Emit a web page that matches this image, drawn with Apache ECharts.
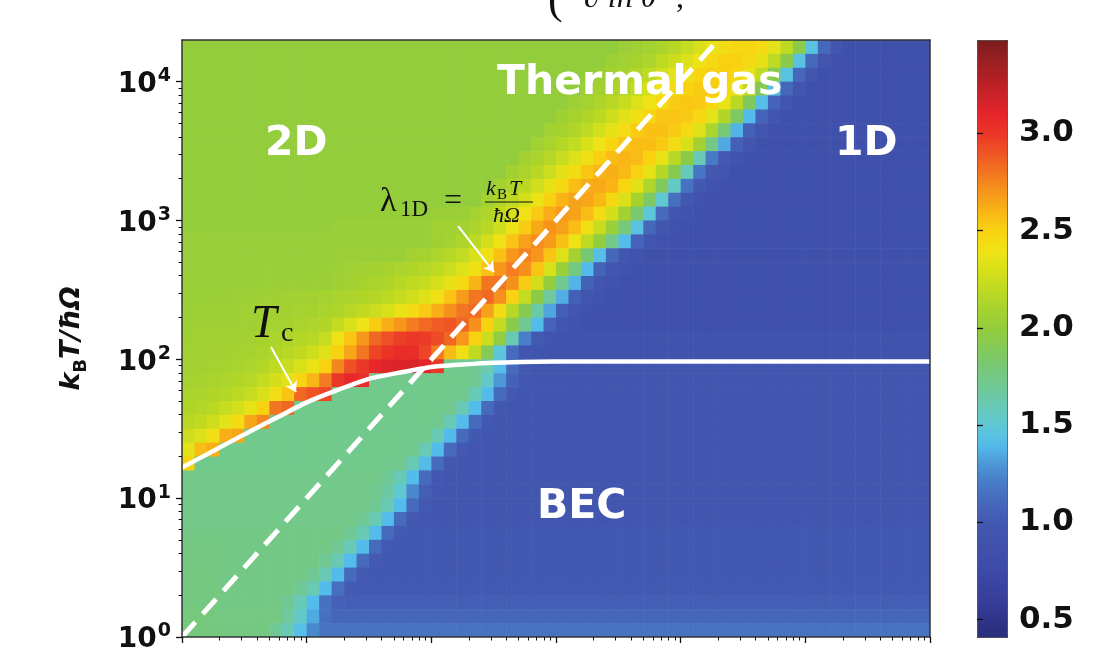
<!DOCTYPE html>
<html lang="en" style="height: 100%">

<head>
  <meta charset="utf-8">
</head>

<body style="height: 100%; margin: 0; background: #fff">
  <div id="container" style="width: 1094px; height: 649px"></div>

  <script type="text/javascript" src="https://cdn.jsdelivr.net/npm/echarts@6.0.0/dist/echarts.min.js"></script>

  <script type="text/javascript">
    var dom = document.getElementById('container');
    var myChart = echarts.init(dom, null, { renderer: 'canvas' });

    // map is sampled every 0.1 decade: 60 columns (x 1..1e6), 43 rows (y 1..10^4.3)
    var cellDecade = 0.1;
    var nCols = 60;
    var nRows = 43;

    // values, top row first.
    // a number is one cell, [v, n] is n cells of v, [v] fills to the right edge
    var thermalRows = [
      [[2.0, 35], 2.04, 2.06, 2.09, 2.12, 2.17, 2.23, 2.3, 2.38, 2.43, 2.47, 2.48, 2.45, 2.35, 2.2, 1.95, 1.45, 1.1, 0.95, [0.88]],
      [[2.0, 34], 2.05, 2.07, 2.1, 2.13, 2.2, 2.25, 2.32, 2.4, 2.46, 2.5, 2.5, 2.46, 2.36, 2.2, 1.95, 1.45, 1.1, 0.95, [0.88]],
      [[2.0, 33], 2.05, 2.08, 2.11, 2.15, 2.2, 2.27, 2.35, 2.42, 2.48, 2.51, 2.51, 2.47, 2.37, 2.2, 1.93, 1.45, 1.1, 0.95, [0.88]],
      [[2.0, 32], 2.05, 2.08, 2.12, 2.16, 2.22, 2.3, 2.38, 2.45, 2.5, 2.52, 2.52, 2.48, 2.38, 2.2, 1.9, 1.45, 1.1, 0.95, [0.88]],
      [[2.0, 31], 2.06, 2.09, 2.13, 2.18, 2.24, 2.32, 2.4, 2.47, 2.52, 2.54, 2.53, 2.48, 2.37, 2.18, 1.88, 1.42, 1.08, 0.95, [0.88]],
      [[2.0, 30], 2.06, 2.1, 2.14, 2.19, 2.26, 2.34, 2.42, 2.49, 2.54, 2.55, 2.53, 2.47, 2.35, 2.15, 1.85, 1.4, 1.08, 0.95, [0.88]],
      [[2.0, 29], 2.07, 2.1, 2.15, 2.2, 2.28, 2.36, 2.45, 2.52, 2.56, 2.56, 2.53, 2.46, 2.33, 2.12, 1.8, 1.38, 1.06, 0.95, [0.88]],
      [[2.0, 28], 2.07, 2.11, 2.16, 2.22, 2.3, 2.39, 2.48, 2.55, 2.58, 2.57, 2.53, 2.44, 2.3, 2.08, 1.75, 1.35, 1.05, 0.94, [0.88]],
      [[2.0, 27], 2.08, 2.12, 2.17, 2.24, 2.32, 2.42, 2.51, 2.58, 2.6, 2.58, 2.5, 2.37, 2.18, 1.95, 1.6, 1.2, 1.0, 0.93, [0.88]],
      [[2.0, 26], 2.08, 2.12, 2.18, 2.25, 2.34, 2.44, 2.54, 2.6, 2.62, 2.59, 2.5, 2.36, 2.16, 1.92, 1.58, 1.18, 0.99, 0.93, [0.88]],
      [[2.0, 25], 2.08, 2.13, 2.19, 2.27, 2.36, 2.47, 2.57, 2.63, 2.64, 2.6, 2.49, 2.34, 2.13, 1.88, 1.55, 1.16, 0.98, 0.92, [0.88]],
      [[2.0, 24], 2.09, 2.14, 2.2, 2.28, 2.38, 2.5, 2.6, 2.66, 2.65, 2.59, 2.47, 2.31, 2.1, 1.85, 1.52, 1.14, 0.97, 0.91, [0.88]]
    ];
    var crossoverRows = [
      [[2.01, 20], [2.04, 3], 2.09, 2.14, 2.21, 2.3, 2.41, 2.53, 2.63, 2.68, 2.66, 2.58, 2.45, 2.28, 2.07, 1.82, 1.48, 1.12, 0.96, 0.9, [0.88]],
      [[2.01, 12], [2.03, 8], [2.07, 3], 2.12, 2.18, 2.26, 2.38, 2.52, 2.64, 2.71, 2.67, 2.57, 2.42, 2.24, 2.03, 1.78, 1.45, 1.1, 0.95, 0.89, [0.88]],
      [[2.02, 12], [2.03, 8], 2.06, 2.09, 2.13, 2.19, 2.28, 2.4, 2.55, 2.67, 2.73, 2.68, 2.56, 2.4, 2.2, 1.99, 1.74, 1.4, 1.08, 0.94, 0.89, [0.88]],
      [[2.02, 12], [2.04, 6], 2.08, 2.1, 2.13, 2.17, 2.22, 2.3, 2.42, 2.56, 2.7, 2.76, 2.7, 2.55, 2.33, 2.08, 1.8, 1.42, 1.1, 0.96, 0.91, [0.88]],
      [[2.02, 6], [2.03, 6], 2.05, 2.06, 2.07, 2.08, 2.1, 2.12, 2.14, 2.17, 2.2, 2.25, 2.32, 2.42, 2.56, 2.7, 2.78, 2.72, 2.55, 2.3, 2.03, 1.76, 1.4, 1.08, 0.95, 0.9, [0.88]],
      [[2.03, 6], [2.04, 6], 2.06, 2.08, 2.1, 2.12, 2.14, 2.17, 2.2, 2.24, 2.29, 2.36, 2.46, 2.6, 2.8, 2.8, 2.72, 2.52, 2.27, 2.0, 1.72, 1.38, 1.07, 0.95, 0.9, [0.88]],
      [2.03, [2.04, 3], [2.05, 2], [2.06, 2], [2.07, 2], 2.08, 2.09, 2.11, 2.12, 2.14, 2.16, 2.19, 2.22, 2.27, 2.33, 2.42, 2.55, 2.68, 2.8, 2.84, 2.72, 2.5, 2.22, 1.95, 1.68, 1.36, 1.06, 0.94, 0.9, [0.88]],
      [2.04, [2.05, 3], [2.06, 2], 2.07, [2.08, 2], 2.09, 2.1, 2.11, 2.14, 2.17, 2.21, 2.25, 2.3, 2.37, 2.45, 2.53, 2.62, 2.72, 2.8, 2.83, 2.67, 2.44, 2.18, 1.92, 1.65, 1.34, 1.05, 0.94, 0.89, [0.88]],
      [2.05, [2.06, 5], 2.08, 2.09, 2.1, 2.11, 2.13, 2.15, 2.22, 2.3, 2.4, 2.52, 2.62, 2.7, 2.78, 2.84, 2.88, 2.9, 2.85, 2.72, 2.5, 2.22, 1.95, 1.7, 1.4, 1.08, 0.95, 0.9, [0.88]],
      [2.06, [2.07, 3], [2.08, 2], 2.1, 2.12, 2.13, 2.16, 2.18, 2.23, 2.4, 2.55, 2.7, 2.85, 2.92, 2.97, 3.0, 2.98, 2.93, 2.85, 2.7, 2.5, 2.25, 1.98, 1.6, 1.22, 1.0, 0.93, [0.9]],
      [[2.07, 2], [2.08, 2], 2.09, 2.1, 2.12, 2.15, 2.18, 2.21, 2.26, 2.33, 2.5, 2.65, 2.8, 2.95, 3.02, 3.06, 3.05, 2.95, 2.78, 2.58, 2.42, 2.2, 1.9, 1.48, 1.12, 0.96, 0.92, [0.9]],
      [[2.08, 2], 2.09, 2.1, 2.11, 2.13, 2.16, 2.2, 2.24, 2.3, 2.38, 2.5, 2.75, 2.92, 3.0, 3.08, 3.12, 3.14, 3.14, 3.1, 3.0, [1.73, 2], 1.7, 1.62, 1.42, 1.12, 0.98, [0.94]],
      [2.09, 2.1, 2.11, 2.13, 2.15, 2.17, 2.22, 2.28, 2.35, 2.48, 2.6, 2.78, 3.0, 3.08, 3.05, [1.73, 8], 1.7, 1.55, 1.3, 1.06, 0.97, [0.95]],
      [2.11, 2.12, 2.14, 2.16, 2.19, 2.23, 2.3, 2.42, 2.55, 2.85, 2.9, 2.95, [1.73, 10], 1.72, 1.6, 1.4, 1.12, 0.99, [0.95]],
      [2.14, 2.16, 2.19, 2.23, 2.28, 2.36, 2.5, 2.8, 2.85, [1.73, 12], 1.72, 1.6, 1.4, 1.12, 0.99, [0.95]],
      [2.18, 2.21, 2.26, 2.35, 2.45, 2.65, 2.75, [1.73, 13], 1.72, 1.6, 1.4, 1.12, 0.99, [0.95]],
      [2.25, 2.32, 2.42, 2.62, 2.65, [1.73, 14], 1.72, 1.6, 1.4, 1.12, 0.99, [0.95]],
      [2.35, 2.58, 2.62, [1.73, 15], 1.72, 1.6, 1.4, 1.12, 0.99, [0.95]],
      [2.5, [1.73, 16], 1.72, 1.6, 1.4, 1.12, 0.99, [0.95]]
    ];
    var condensedRows = [
      [[1.74, 16], 1.7, 1.6, 1.4, 1.12, 0.99, [0.95]],
      [[1.74, 15], 1.72, 1.66, 1.52, 1.25, 1.04, 0.97, [0.95]],
      [[1.74, 15], 1.7, 1.6, 1.4, 1.12, 0.99, [0.95]],
      [[1.74, 14], 1.7, 1.6, 1.4, 1.12, 0.99, [0.95]],
      [[1.75, 13], 1.7, 1.6, 1.4, 1.12, 1.0, [0.98]],
      [[1.76, 3], [1.75, 9], 1.7, 1.6, 1.4, 1.12, 1.0, [0.98]],
      [[1.76, 3], [1.75, 8], 1.7, 1.6, 1.4, 1.12, 1.0, [0.98]],
      [[1.77, 3], [1.75, 7], 1.7, 1.6, 1.4, 1.12, 1.0, [0.98]],
      [[1.77, 3], [1.75, 6], 1.7, 1.6, 1.4, 1.14, 1.02, [1.0]],
      [[1.77, 3], [1.75, 5], 1.7, 1.6, 1.4, 1.15, 1.06, [1.04]],
      [[1.78, 3], [1.76, 5], 1.68, 1.55, 1.35, 1.15, [1.09]],
      [[1.78, 3], [1.76, 4], 1.7, 1.6, 1.42, 1.25, [1.16]]
    ];

    // T_c line and lambda_1D = k_B T / hbar Omega line
    var tcX = [1, 1.78, 3.16, 5.62, 10, 17.8, 31.6, 56.2, 100, 178, 316, 1000, 1000000];
    var tcY = [16.6, 21.9, 28.8, 37.6, 49.0, 60.3, 72.4, 80.4, 88.1, 91.6, 94.4, 96.6, 96.6];
    var lambdaX = [1, 20000];
    var lambdaY = [1, 20000];
    // annotation arrows (tail, head) in data units
    var lambdaArrow = [[164, 912], [318, 425]];
    var tcArrow = [[5.18, 122.7], [8.21, 58.2]];

    var xMajor = [1, 10, 100, 1000, 10000, 100000, 1000000];
    var yMajor = [1, 10, 100, 1000, 10000];
    var colorbarTicks = [0.5, 1.0, 1.5, 2.0, 2.5, 3.0];
    var colorMin = 0.41;
    var colorMax = 3.48;
    var jetColors = ['#2a2e7d', '#30358a', '#373f9b', '#3b46a3', '#3f4daa', '#4153ad', '#4359b2', '#4568bb',
      '#487ac6', '#4c97d6', '#54bceb', '#5ec8d6', '#68c9b6', '#70c996', '#77c877', '#84c958', '#93cd3d',
      '#a5d22f', '#bcd923', '#d6e01a', '#eee316', '#f8d511', '#f9b915', '#f69a1a', '#f37a20', '#ef5a24',
      '#ec3a27', '#e8262a', '#d0232a', '#b31f24', '#982022', '#7b1c1d'];

    function expandRow(row) {
      var out = [];
      row.forEach(function (item) {
        if (typeof item === 'number') {
          out.push(item);
        } else if (item.length === 2) {
          for (var k = 0; k < item[1]; k++) out.push(item[0]);
        } else {
          while (out.length < nCols) out.push(item[0]);
        }
      });
      return out.slice(0, nCols);
    }

    var cells = [];
    thermalRows.concat(crossoverRows, condensedRows).forEach(function (row, r) {
      var i = nRows - 1 - r;
      expandRow(row).forEach(function (v, j) {
        cells.push([
          Math.pow(10, j * cellDecade), Math.pow(10, (j + 1) * cellDecade),
          Math.pow(10, i * cellDecade), Math.pow(10, (i + 1) * cellDecade), v
        ]);
      });
    });

    var xMax = Math.pow(10, nCols * cellDecade);
    var yMax = Math.pow(10, nRows * cellDecade);

    function minorTicks(maxVal) {
      var t = [];
      for (var d = 1; d < maxVal; d *= 10) {
        for (var m = 2; m <= 9; m++) {
          if (m * d <= maxVal) t.push(m * d);
        }
      }
      return t;
    }

    var font = 'DejaVu Sans';
    var ink = '#111';
    var frame = { show: true, onZero: false, lineStyle: { color: '#333', width: 1.5 } };

    // text is placed by its top edge; the baseline sits about 0.83 em lower
    function txt(x, baseline, size, str, style, color) {
      return {
        type: 'text', z: 20,
        style: {
          x: x, y: baseline - 0.83 * size, text: str, fill: color || ink,
          font: style + ' ' + size + 'px ' + (style.indexOf('bold') >= 0 ? '"DejaVu Sans"' : '"Liberation Serif"')
        }
      };
    }

    var option = {
      animation: false,
      backgroundColor: '#fff',
      grid: [
        { left: 182, top: 40, width: 748, height: 597, outerBoundsMode: 'none' },
        { left: 977, top: 40, width: 30, height: 597, outerBoundsMode: 'none' }
      ],
      xAxis: [
        {
          gridIndex: 0, type: 'log', logBase: 10, min: 1, max: xMax, position: 'bottom', z: 10,
          axisLine: frame,
          axisTick: { customValues: xMajor, length: 6, lineStyle: { color: ink, width: 1.3 } },
          axisLabel: { show: false },
          splitLine: { show: false }
        },
        {
          gridIndex: 0, type: 'log', logBase: 10, min: 1, max: xMax, position: 'bottom', z: 10,
          axisLine: { show: false },
          axisTick: { customValues: minorTicks(xMax), length: 3.5, lineStyle: { color: ink, width: 1 } },
          axisLabel: { show: false },
          splitLine: { show: false }
        },
        {
          gridIndex: 0, type: 'log', logBase: 10, min: 1, max: xMax, position: 'top', z: 10,
          axisLine: frame, axisTick: { show: false }, axisLabel: { show: false }, splitLine: { show: false }
        },
        { gridIndex: 1, type: 'value', show: false, min: 0, max: 1 }
      ],
      yAxis: [
        {
          gridIndex: 0, type: 'log', logBase: 10, min: 1, max: yMax, position: 'left', z: 10,
          axisLine: frame,
          axisTick: { customValues: yMajor, length: 6, lineStyle: { color: ink, width: 1.3 } },
          axisLabel: {
            customValues: yMajor,
            margin: 11,
            formatter: function (v) {
              return '{b|10}{s|' + Math.round(Math.log10(v)) + '}';
            },
            rich: {
              b: { fontFamily: font, fontWeight: 'bold', fontSize: 28, color: ink, lineHeight: 34, verticalAlign: 'bottom' },
              s: { fontFamily: font, fontWeight: 'bold', fontSize: 19, color: ink, lineHeight: 34, verticalAlign: 'top', padding: [2, 0, 0, 1] }
            }
          },
          splitLine: { show: false },
          name: '{i|k}{sub|B}{i|T/ħΩ}',
          nameLocation: 'middle',
          nameRotate: 90,
          nameGap: 92,
          nameTextStyle: {
            rich: {
              i: { fontFamily: font, fontWeight: 'bold', fontStyle: 'italic', fontSize: 27, color: ink, lineHeight: 36 },
              sub: { fontFamily: font, fontWeight: 'bold', fontSize: 18, color: ink, lineHeight: 36, verticalAlign: 'bottom' }
            }
          }
        },
        {
          gridIndex: 0, type: 'log', logBase: 10, min: 1, max: yMax, position: 'left', z: 10,
          axisLine: { show: false },
          axisTick: { customValues: minorTicks(yMax), length: 3.5, lineStyle: { color: ink, width: 1 } },
          axisLabel: { show: false },
          splitLine: { show: false }
        },
        {
          gridIndex: 0, type: 'log', logBase: 10, min: 1, max: yMax, position: 'right', z: 10,
          axisLine: frame, axisTick: { show: false }, axisLabel: { show: false }, splitLine: { show: false }
        },
        {
          gridIndex: 1, type: 'value', min: colorMin, max: colorMax, position: 'right', z: 10,
          axisLine: { show: false },
          axisTick: { customValues: colorbarTicks, length: 6, lineStyle: { color: ink, width: 1.3 } },
          axisLabel: {
            customValues: colorbarTicks,
            margin: 12,
            fontFamily: font, fontWeight: 'bold', fontSize: 31, color: ink,
            formatter: function (v) { return v.toFixed(1); }
          },
          splitLine: { show: false }
        }
      ],
      visualMap: {
        type: 'continuous',
        min: colorMin,
        max: colorMax,
        dimension: 4,
        seriesIndex: 0,
        calculable: false,
        hoverLink: false,
        left: 977,
        top: 40,
        itemWidth: 30,
        itemHeight: 597,
        padding: 0,
        borderColor: '#333',
        borderWidth: 1,
        inRange: { color: jetColors }
      },
      series: [
        {
          type: 'custom',
          xAxisIndex: 0,
          yAxisIndex: 0,
          clip: true,
          z: 1,
          encode: { x: [0, 1], y: [2, 3] },
          renderItem: function (params, api) {
            var a = api.coord([api.value(0), api.value(3)]);
            var b = api.coord([api.value(1), api.value(2)]);
            return {
              type: 'rect',
              shape: { x: a[0], y: a[1], width: b[0] - a[0] + 0.6, height: b[1] - a[1] + 0.6 },
              style: { fill: api.visual('color') }
            };
          },
          data: cells
        },
        {
          type: 'line',
          xAxisIndex: 0,
          yAxisIndex: 0,
          z: 4,
          showSymbol: false,
          smooth: 0.2,
          lineStyle: { color: '#fff', width: 4.5 },
          data: tcX.map(function (x, k) { return [x, tcY[k]]; })
        },
        {
          type: 'line',
          xAxisIndex: 0,
          yAxisIndex: 0,
          z: 4,
          showSymbol: false,
          lineStyle: { color: '#fff', width: 5, type: [20, 11], cap: 'butt' },
          data: lambdaX.map(function (x, k) { return [x, lambdaY[k]]; })
        },
        {
          type: 'lines',
          coordinateSystem: 'cartesian2d',
          xAxisIndex: 0,
          yAxisIndex: 0,
          z: 5,
          symbol: ['none', 'arrow'],
          symbolSize: 10,
          lineStyle: { color: '#fff', width: 2, opacity: 1 },
          data: [{ coords: lambdaArrow }, { coords: tcArrow }]
        }
      ],
      graphic: [
        txt(265, 158, 41, '2D', 'bold', '#fff'),
        txt(497, 97, 41, 'Thermal gas', 'bold', '#fff'),
        txt(835, 158, 41, '1D', 'bold', '#fff'),
        txt(537, 521, 41, 'BEC', 'bold', '#fff'),

        txt(380, 213, 34, 'λ', 'normal'),
        txt(400, 218, 23, '1D', 'normal'),
        txt(444, 212, 32, '=', 'normal'),
        txt(486, 196, 22, 'k', 'italic'),
        txt(497, 200, 15, 'B', 'normal'),
        txt(509, 196, 22, 'T', 'italic'),
        { type: 'line', z: 20, shape: { x1: 485, y1: 202, x2: 533, y2: 202 }, style: { stroke: ink, lineWidth: 1.2 } },
        txt(493, 223, 22, 'ħΩ', 'italic'),

        txt(251, 340, 46, 'T', 'italic'),
        txt(281, 343, 28, 'c', 'normal'),

        txt(548, 16, 44, '(', 'normal'),
        txt(584, 9, 32, '∂ ln θ', 'italic'),
        txt(676, 9, 32, ',', 'normal')
      ]
    };

    myChart.setOption(option);
    window.addEventListener('resize', myChart.resize);
  </script>
</body>

</html>
